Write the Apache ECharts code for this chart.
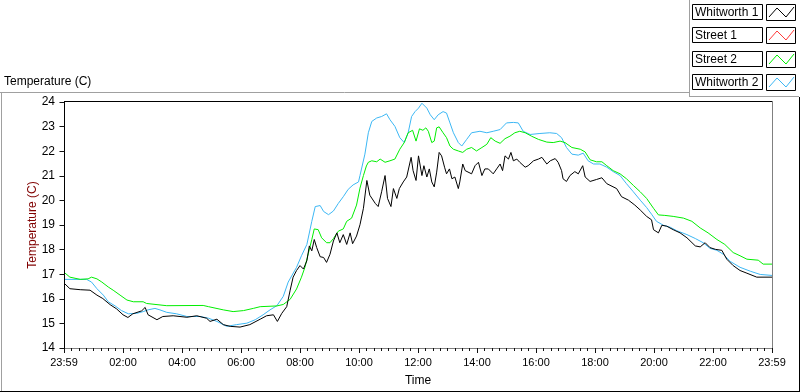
<!DOCTYPE html>
<html><head><meta charset="utf-8">
<script src="https://cdn.jsdelivr.net/npm/echarts@6/dist/echarts.min.js"></script>
<style>html,body{margin:0;padding:0;background:#fff}#c{width:800px;height:392px}</style>
</head><body><div id="c"></div><script>
// ---- data (x = minutes after midnight; -1 = 23:59 of the previous day) ----
const seriesNames = ['Whitworth 1', 'Street 1', 'Street 2', 'Whitworth 2'];
const seriesColors = ['#000000', '#ff3a3a', '#00ee00', '#3cb7f4'];
const xTickLabels = ['23:59','02:00','04:00','06:00','08:00','10:00','12:00','14:00','16:00','18:00','20:00','22:00','23:59'];
const yMin = 14, yMax = 24;

const whitworth1 = [[-1,16.64],[11,16.41],[32,16.37],[52,16.35],[66,16.15],[78,16.01],[93,15.76],[106,15.59],[119,15.35],[129,15.24],[139,15.39],[157,15.51],[164,15.65],[170,15.35],[188,15.15],[200,15.28],[221,15.31],[249,15.25],[269,15.31],[289,15.21],[296,15.08],[310,15.17],[323,14.95],[337,14.88],[357,14.85],[377,14.95],[398,15.17],[411,15.31],[425,15.35],[433,15.08],[442,15.41],[452,15.68],[459,16.35],[465,16.88],[472,17.15],[479,17.35],[486,17.21],[493,17.55],[498,18.15],[503,17.95],[508,18.41],[513,18.08],[520,17.71],[527,17.68],[533,17.48],[540,17.81],[547,18.35],[554,18.68],[560,18.28],[567,18.61],[574,18.21],[581,18.68],[586,18.24],[594,18.55],[601,19.01],[608,19.68],[615,20.81],[621,20.21],[632,19.88],[638,19.75],[645,20.35],[652,21.01],[657,20.08],[664,19.75],[669,20.48],[676,20.08],[681,20.48],[689,20.75],[696,20.95],[705,21.75],[709,21.21],[715,20.81],[720,21.81],[727,21.01],[731,21.41],[737,20.95],[742,21.28],[747,20.75],[752,20.55],[757,21.15],[762,21.95],[767,21.81],[773,21.35],[777,21.08],[783,21.28],[788,20.88],[794,20.95],[801,20.48],[804,20.75],[810,21.48],[815,21.21],[819,21.28],[828,21.08],[835,21.41],[842,21.55],[849,21.01],[855,21.28],[862,21.28],[872,21.08],[879,21.28],[886,21.48],[891,21.21],[896,21.81],[903,21.68],[908,21.95],[913,21.61],[920,21.68],[926,21.55],[937,21.35],[943,21.41],[954,21.61],[964,21.68],[971,21.75],[981,21.48],[988,21.61],[998,21.7],[1004,21.55],[1011,21.21],[1014,20.88],[1021,20.77],[1028,21.01],[1038,21.17],[1045,21.08],[1054,21.41],[1059,20.95],[1069,20.77],[1082,20.85],[1093,20.92],[1103,20.68],[1123,20.48],[1133,20.15],[1147,20.01],[1160,19.81],[1171,19.61],[1184,19.35],[1194,19.21],[1198,18.81],[1208,18.68],[1215,18.99],[1225,18.95],[1238,18.81],[1252,18.68],[1266,18.48],[1283,18.15],[1293,18.11],[1303,18.28],[1313,18.08],[1324,18.01],[1337,17.97],[1347,17.61],[1360,17.35],[1374,17.15],[1388,17.04],[1408,16.88],[1439,16.88]];

const street1 = [];

const street2 = [[-1,17.08],[11,16.88],[32,16.79],[48,16.81],[55,16.88],[66,16.81],[76,16.68],[89,16.48],[99,16.35],[113,16.15],[127,15.95],[140,15.88],[160,15.88],[167,15.81],[208,15.72],[282,15.73],[293,15.68],[323,15.55],[343,15.48],[364,15.52],[384,15.61],[398,15.68],[432,15.71],[445,15.77],[459,15.98],[472,16.4],[482,16.88],[489,17.28],[496,17.85],[503,18.41],[508,18.84],[516,18.81],[523,18.48],[533,18.28],[540,18.28],[547,18.45],[557,18.75],[567,18.84],[574,19.15],[584,19.28],[594,19.81],[601,20.5],[608,21.01],[614,21.4],[618,21.55],[625,21.61],[635,21.57],[642,21.68],[652,21.55],[662,21.61],[672,21.68],[682,22.08],[691,22.35],[699,22.75],[708,22.85],[715,22.41],[722,22.91],[729,22.85],[735,22.95],[740,22.81],[747,22.35],[752,22.41],[757,22.95],[762,22.99],[770,22.75],[777,22.55],[784,22.21],[791,22.08],[801,22.01],[810,21.95],[818,22.08],[828,22.15],[838,22.01],[849,22.15],[859,22.28],[867,22.55],[876,22.41],[886,22.32],[896,22.51],[906,22.61],[916,22.75],[926,22.81],[937,22.75],[950,22.61],[964,22.48],[981,22.37],[994,22.35],[1008,22.41],[1018,22.35],[1032,22.15],[1049,22.08],[1059,21.97],[1069,21.65],[1082,21.57],[1093,21.57],[1103,21.41],[1116,21.21],[1130,21.08],[1143,20.88],[1157,20.61],[1171,20.35],[1184,20.08],[1198,19.68],[1208,19.41],[1221,19.39],[1238,19.35],[1259,19.28],[1276,19.15],[1293,18.88],[1309,18.68],[1327,18.41],[1343,18.21],[1360,17.88],[1374,17.75],[1388,17.61],[1411,17.57],[1421,17.41],[1439,17.41]];

const whitworth2 = [[-1,16.79],[45,16.79],[55,16.68],[66,16.41],[79,16.15],[89,15.88],[103,15.71],[116,15.52],[130,15.39],[147,15.41],[160,15.48],[170,15.55],[184,15.61],[194,15.55],[208,15.45],[228,15.39],[249,15.28],[276,15.28],[293,15.21],[310,15.08],[330,14.88],[350,14.95],[371,15.01],[388,15.15],[404,15.35],[418,15.55],[432,15.72],[445,16.1],[455,16.68],[472,17.28],[482,17.75],[493,18.21],[503,19.15],[510,19.75],[520,19.79],[527,19.55],[537,19.42],[547,19.57],[557,19.88],[567,20.15],[577,20.45],[587,20.63],[598,20.75],[601,21.01],[611,21.88],[618,22.75],[625,23.21],[635,23.35],[645,23.41],[655,23.52],[662,23.28],[672,23.01],[682,22.55],[691,22.35],[699,22.75],[706,23.41],[713,23.61],[720,23.75],[727,23.95],[737,23.75],[744,23.48],[752,23.28],[760,23.48],[770,23.61],[777,23.55],[784,23.15],[791,22.75],[801,22.35],[808,22.21],[818,22.48],[828,22.75],[845,22.81],[859,22.75],[872,22.81],[886,22.88],[899,23.15],[913,23.17],[923,23.15],[933,22.81],[947,22.68],[967,22.72],[987,22.75],[1001,22.72],[1011,22.55],[1021,22.15],[1032,21.88],[1045,21.84],[1055,21.92],[1065,21.61],[1076,21.48],[1089,21.48],[1103,21.35],[1116,21.17],[1130,21.01],[1143,20.68],[1157,20.35],[1171,20.01],[1184,19.71],[1194,19.44],[1204,19.15],[1218,18.99],[1232,18.91],[1245,18.77],[1266,18.61],[1283,18.45],[1299,18.28],[1313,18.05],[1327,17.97],[1340,17.81],[1354,17.52],[1374,17.28],[1395,17.12],[1415,16.99],[1439,16.95]];

const seriesData = [whitworth1, street1, street2, whitworth2];

// ---- chart ----
const FONT = 'Liberation Sans';
const TICK = '#111111';
const chart = echarts.init(document.getElementById('c'), null, {renderer: 'canvas'});

const graphics = [];
function hline(x1, x2, y, c) { graphics.push({type:'line', silent:true, z:-1, shape:{x1:x1, y1:y, x2:x2, y2:y}, style:{stroke:c, lineWidth:1}}); }
function vline(x, y1, y2, c) { graphics.push({type:'line', silent:true, z:-1, shape:{x1:x, y1:y1, x2:x, y2:y2}, style:{stroke:c, lineWidth:1}}); }
// panel frame
hline(0, 689, 92.5, '#a0a0a0');
vline(1.5, 92, 392, '#a0a0a0');
vline(689.5, 0, 97, '#a0a0a0');
hline(689, 799, 96.5, '#a0a0a0');
vline(799.5, 97, 392, '#000');
hline(0, 800, 391.5, '#000');
// plot frame (top black, right grey)
hline(64, 772, 101.5, '#000');
vline(772.5, 101, 353, '#808080');
// legend
seriesNames.forEach(function (name, i) {
  const t = Math.round(4 + i * 23.4);
  graphics.push({type:'rect', silent:true, shape:{x:692.5, y:t+0.5, width:70, height:15}, style:{fill:'#fff', stroke:'#000', lineWidth:1}});
  graphics.push({type:'text', silent:true, x:695, y:t+8.5, style:{text:name, fill:'#000', font:'12px "' + FONT + '"', textVerticalAlign:'middle', verticalAlign:'middle'}});
  graphics.push({type:'rect', silent:true, shape:{x:766.5, y:t+0.5, width:29, height:16}, style:{fill:'#fff', stroke:'#000', lineWidth:1}});
  graphics.push({type:'polyline', silent:true, shape:{points:[[769, t+13], [777, t+4], [786, t+13], [794, t+3]]}, style:{stroke:seriesColors[i], lineWidth:1, fill:null}});
});

const series = [3, 2, 1, 0].map(function (i) {
  return {
    name: seriesNames[i], type: 'line', data: seriesData[i], showSymbol: false, symbol: 'none',
    xAxisIndex: 0, yAxisIndex: 0,
    lineStyle: {color: seriesColors[i], width: 1}, itemStyle: {color: seriesColors[i]}
  };
});

const hiddenSplit = {show: true, lineStyle: {color: 'rgba(0,0,0,0)'}};

chart.setOption({
  animation: false,
  title: {text: 'Temperature (C)', left: 4, top: 76, padding: 0,
    textStyle: {fontSize: 12, fontWeight: 'normal', color: '#000', fontFamily: FONT}},
  grid: {left: 64, right: 28, top: 102, bottom: 40},
  xAxis: [{
    type: 'value', min: -1, max: 1439, interval: 120, z: 10,
    name: 'Time', nameLocation: 'middle', nameGap: 27, nameMoveOverlap: false,
    nameTextStyle: {fontSize: 12, color: '#000', fontFamily: FONT},
    axisLine: {show: true, lineStyle: {color: '#808080'}},
    axisTick: {show: true, length: 5, lineStyle: {color: TICK, width: 1}},
    splitLine: hiddenSplit,
    axisLabel: {margin: 9, fontSize: 11, color: '#000', fontFamily: FONT,
      showMinLabel: true, showMaxLabel: true,
      formatter: function (v, idx) { return xTickLabels[idx] !== undefined ? xTickLabels[idx] : ''; }}
  }, {
    // 15-minute minor ticks
    type: 'value', min: -1, max: 1439, interval: 15, position: 'bottom', z: 10,
    axisLine: {show: false},
    axisTick: {show: true, length: 3, lineStyle: {color: TICK, width: 1}},
    axisLabel: {show: false},
    splitLine: hiddenSplit
  }],
  yAxis: {
    type: 'value', min: yMin, max: yMax, interval: 1, z: 10,
    name: 'Temperature (C)', nameLocation: 'middle', nameGap: 25, nameRotate: 90, nameMoveOverlap: false,
    nameTextStyle: {fontSize: 12, color: '#800000', fontFamily: FONT},
    axisLine: {show: true, lineStyle: {color: '#000'}},
    axisTick: {show: true, length: 5, lineStyle: {color: TICK, width: 1}},
    splitLine: hiddenSplit,
    axisLabel: {margin: 9, fontSize: 12, color: '#000', fontFamily: FONT}
  },
  graphic: graphics,
  series: series
});
</script></body></html>
